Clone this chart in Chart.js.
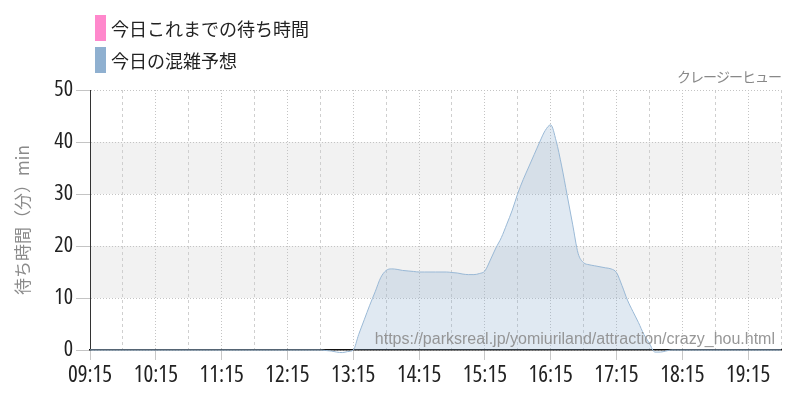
<!DOCTYPE html>
<html>
<head>
<meta charset="utf-8">
<script src="https://cdn.jsdelivr.net/npm/chart.js@4"></script>
<style>
  html, body { margin: 0; padding: 0; background: #fff; }
  #wrap { width: 800px; height: 400px; }
</style>
</head>
<body>
<div id="wrap"><canvas id="waitChart" width="800" height="400"></canvas></div>
<script>
// axis range and ticks
const xStart = '09:15';
const xEnd = '19:45';
const hourTicks = ['09:15', '10:15', '11:15', '12:15', '13:15', '14:15', '15:15', '16:15', '17:15', '18:15', '19:15'];
const halfHourTicks = ['09:45', '10:45', '11:45', '12:45', '13:45', '14:45', '15:45', '16:45', '17:45', '18:45', '19:45'];
const yTicks = [0, 10, 20, 30, 40, 50];

// today's waits so far (nothing recorded yet)
const todayTimes = [];
const todayValues = [];

// forecast
const forecastTimes = [
    '09:15', '10:15', '11:15', '12:15',
    '12:45', '12:50', '12:55', '13:00', '13:05', '13:10', '13:15', '13:20', '13:25', '13:30', '13:35', '13:40',
    '13:45', '13:50', '13:55', '14:00', '14:05', '14:10', '14:15', '14:20', '14:25', '14:30', '14:35', '14:40',
    '14:45', '14:50', '14:55', '15:00', '15:05', '15:10', '15:15', '15:20', '15:25', '15:30', '15:35', '15:40',
    '15:45', '15:50', '15:55', '16:00', '16:05', '16:10', '16:15', '16:20', '16:25', '16:30', '16:35', '16:40',
    '16:45', '16:50', '16:55', '17:00', '17:05', '17:10', '17:15', '17:20', '17:25', '17:30', '17:35', '17:40',
    '17:45', '17:50', '17:55', '18:00', '18:05', '18:10', '18:15',
    '18:45', '19:15', '19:45'
];
const forecastValues = [
    0, 0, 0, 0,
    0, -0.1, -0.2, -0.4, -0.5, -0.3, 0, 3.0, 5.8, 8.6, 11.2, 13.9,
    15.3, 15.6, 15.5, 15.3, 15.2, 15.1, 15.0, 15.0, 15.0, 15.0, 15.0, 15.0,
    14.9, 14.8, 14.6, 14.5, 14.5, 14.7, 15.2, 17.3, 19.6, 21.6, 24.2, 26.9,
    30.1, 32.8, 35.2, 37.6, 40.0, 42.2, 43.3, 40.2, 35.4, 29.8, 24.2, 18.6,
    16.8, 16.4, 16.2, 16.0, 15.8, 15.6, 14.9, 12.4, 9.6, 7.4, 5.3, 3.0,
    1.3, -0.4, -0.4, -0.2, 0, 0, 0,
    0, 0, 0
];

const labelToday = '今日これまでの待ち時間';
const labelForecast = '今日の混雑予想';
const yTitle = '待ち時間（分）min';
const attractionName = 'クレージーヒュー';
const sourceUrl = 'https://parksreal.jp/yomiuriland/attraction/crazy_hou.html';

function toMin(t) {
    const [h, m] = t.split(':').map(Number);
    return h * 60 + m;
}

function fmtMin(v) {
    const h = String(Math.floor(v / 60)).padStart(2, '0');
    const m = String(v % 60).padStart(2, '0');
    return `${h}:${m}`;
}

function toPoints(times, values) {
    return times.map((t, i) => ({x: toMin(t), y: values[i]}));
}

// 'condensed' goes in front of the size in the canvas font string
const numFont = "'Open Sans', sans-serif";
const numStretch = 'condensed';
const jpFont = "'Noto Sans CJK JP', sans-serif";

// grey bands between alternate y ticks (10-20, 30-40)
const bandsPlugin = {
    id: 'bands',
    beforeDraw(chart) {
        const {ctx, chartArea} = chart;
        const y = chart.scales.y;
        ctx.save();
        ctx.fillStyle = '#f2f2f2';
        for (let i = 1; i < yTicks.length - 1; i += 2) {
            const top = y.getPixelForValue(yTicks[i + 1]);
            const bottom = y.getPixelForValue(yTicks[i]);
            ctx.fillRect(chartArea.left, top, chartArea.right - chartArea.left, bottom - top);
        }
        ctx.restore();
    }
};

// stacked legend at top-left, name at top-right, source url watermark
const textPlugin = {
    id: 'texts',
    afterDraw(chart) {
        const {ctx, chartArea} = chart;
        ctx.save();

        ctx.font = `18px ${jpFont}`;
        ctx.textBaseline = 'middle';
        ctx.textAlign = 'left';
        chart.data.datasets.forEach((ds, i) => {
            const top = 15 + i * 32;
            ctx.fillStyle = ds.legendColor;
            ctx.fillRect(95, top, 11, 26);
            ctx.fillStyle = '#222';
            ctx.fillText(ds.label, 111, top + 14);
        });

        ctx.font = `14px ${jpFont}`;
        ctx.fillStyle = '#888';
        ctx.textAlign = 'right';
        ctx.textBaseline = 'alphabetic';
        if ('letterSpacing' in ctx) ctx.letterSpacing = '-1px';
        ctx.fillText(attractionName, chartArea.right, 82);
        if ('letterSpacing' in ctx) ctx.letterSpacing = '0px';

        ctx.font = "16px 'Liberation Sans', sans-serif";
        ctx.fillStyle = 'rgba(140, 140, 140, 0.9)';
        ctx.fillText(sourceUrl, chartArea.right - 6, chartArea.bottom - 6);

        ctx.restore();
    }
};

const ctx = document.getElementById('waitChart').getContext('2d');

new Chart(ctx, {
    type: 'line',
    data: {
        datasets: [{
            label: labelToday,
            legendColor: '#ff88cc',
            data: toPoints(todayTimes, todayValues),
            borderColor: '#ff88cc',
            backgroundColor: 'rgba(255, 136, 204, 0.3)',
            borderWidth: 1,
            pointRadius: 0,
            fill: 'origin'
        }, {
            label: labelForecast,
            legendColor: '#8fb0d0',
            data: toPoints(forecastTimes, forecastValues),
            borderColor: '#9ab9d6',
            backgroundColor: 'rgba(143, 176, 208, 0.28)',
            borderWidth: 1,
            pointRadius: 0,
            cubicInterpolationMode: 'monotone',
            fill: 'origin',
            clip: 6
        }]
    },
    options: {
        responsive: false,
        animation: false,
        layout: {
            padding: {top: 90, left: 0, right: 19, bottom: 0}
        },
        scales: {
            x: {
                type: 'linear',
                min: toMin(xStart),
                max: toMin(xEnd),
                afterBuildTicks: (scale) => {
                    scale.ticks = hourTicks.map(t => ({value: toMin(t)}));
                },
                afterFit: (scale) => {
                    scale.height = 50;
                },
                ticks: {
                    callback: (v) => fmtMin(v),
                    color: '#222',
                    padding: 2,
                    maxRotation: 0,
                    autoSkip: false,
                    font: {family: numFont, weight: numStretch, size: 23}
                },
                grid: {
                    color: '#c4c4c4',
                    tickColor: '#c8c8c8',
                    tickLength: 10,
                    tickBorderDash: []
                },
                border: {
                    color: '#111',
                    width: 1.5,
                    dash: [1, 2]
                }
            },
            x2: {
                type: 'linear',
                position: 'bottom',
                min: toMin(xStart),
                max: toMin(xEnd),
                afterBuildTicks: (scale) => {
                    scale.ticks = halfHourTicks.map(t => ({value: toMin(t)}));
                },
                afterFit: (scale) => {
                    scale.height = 0;
                },
                ticks: {display: false},
                grid: {
                    color: '#cfcfcf',
                    drawTicks: false
                },
                border: {
                    display: false,
                    dash: [3, 3]
                }
            },
            y: {
                min: 0,
                max: 50,
                afterBuildTicks: (scale) => {
                    scale.ticks = yTicks.map(v => ({value: v}));
                },
                afterFit: (scale) => {
                    scale.width = 90;
                },
                ticks: {
                    color: '#222',
                    padding: 3,
                    font: {family: numFont, weight: numStretch, size: 22}
                },
                grid: {
                    color: '#c4c4c4',
                    tickColor: '#c4c4c4',
                    tickLength: 14,
                    tickBorderDash: []
                },
                border: {
                    color: '#333',
                    width: 1,
                    dash: [1, 2]
                },
                title: {
                    display: true,
                    text: yTitle,
                    color: '#8a8a8a',
                    padding: {top: 12, bottom: 0},
                    font: {family: jpFont, size: 17}
                }
            }
        },
        plugins: {
            legend: {display: false},
            tooltip: {enabled: false}
        }
    },
    plugins: [bandsPlugin, textPlugin]
});
</script>
</body>
</html>
